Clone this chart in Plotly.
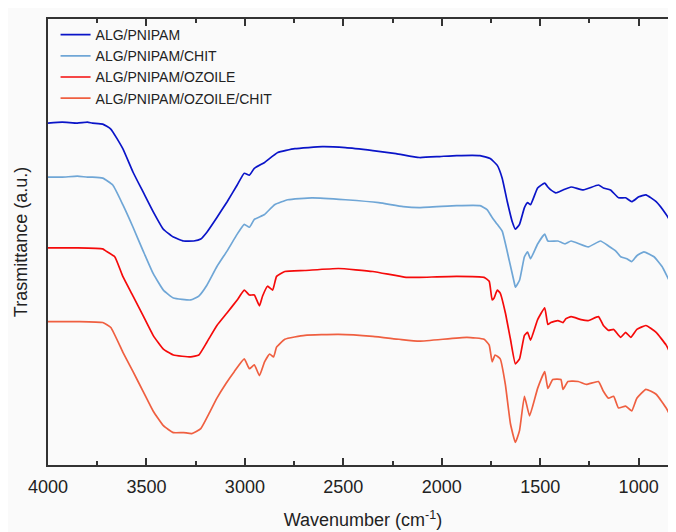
import plotly.graph_objects as go

# Wavenumber (cm^-1) and transmittance (a.u., offset)
wn_alg = [4000, 3928, 3851, 3800, 3774, 3722, 3681, 3620, 3568, 3517, 3466, 3414, 3363, 3311, 3260,
          3224, 3193, 3142, 3090, 3039, 3003, 2977, 2952, 2900, 2833, 2746, 2607, 2489, 2350, 2232,
          2114, 2011, 1924, 1806, 1754, 1718, 1693, 1667, 1641, 1626, 1605, 1580, 1564, 1549, 1513,
          1477, 1461, 1446, 1420, 1384, 1343, 1281, 1204, 1179, 1143, 1102, 1066, 1035, 999, 963,
          911, 860, 829, 804]
t_alg = [3.48, 3.49, 3.48, 3.49, 3.48, 3.47, 3.42, 3.22, 2.98, 2.78, 2.58, 2.40, 2.32, 2.28, 2.28,
         2.30, 2.37, 2.52, 2.68, 2.85, 2.97, 2.95, 3.02, 3.08, 3.18, 3.22, 3.24, 3.23, 3.20, 3.17,
         3.13, 3.14, 3.15, 3.15, 3.12, 3.05, 2.92, 2.68, 2.47, 2.40, 2.45, 2.62, 2.67, 2.65, 2.82,
         2.87, 2.83, 2.80, 2.77, 2.80, 2.83, 2.80, 2.85, 2.82, 2.80, 2.72, 2.72, 2.68, 2.73, 2.75,
         2.68, 2.55, 2.45, 2.37]

wn_chit = [4000, 3928, 3851, 3800, 3774, 3722, 3671, 3620, 3568, 3517, 3466, 3414, 3363, 3275, 3234,
           3193, 3142, 3090, 3039, 3003, 2977, 2952, 2900, 2849, 2782, 2659, 2489, 2320, 2196, 2114,
           1924, 1806, 1770, 1744, 1718, 1693, 1657, 1631, 1626, 1605, 1580, 1564, 1549, 1513, 1477,
           1461, 1410, 1374, 1343, 1256, 1194, 1153, 1117, 1091, 1060, 1035, 1009, 973, 922, 881,
           845, 804]
t_chit = [2.93, 2.93, 2.94, 2.93, 2.93, 2.92, 2.85, 2.65, 2.42, 2.18, 1.95, 1.78, 1.70, 1.68, 1.72,
          1.83, 2.02, 2.18, 2.35, 2.45, 2.42, 2.50, 2.55, 2.65, 2.70, 2.72, 2.70, 2.67, 2.63, 2.62,
          2.64, 2.64, 2.60, 2.52, 2.45, 2.38, 2.08, 1.85, 1.81, 1.88, 2.12, 2.17, 2.10, 2.25, 2.35,
          2.28, 2.28, 2.25, 2.28, 2.22, 2.28, 2.23, 2.18, 2.12, 2.10, 2.07, 2.13, 2.17, 2.12, 2.02,
          1.88, 1.75]

wn_oz = [4000, 3851, 3722, 3707, 3661, 3620, 3568, 3517, 3466, 3414, 3363, 3275, 3234, 3193, 3142,
         3090, 3039, 3003, 2977, 2952, 2926, 2910, 2885, 2859, 2839, 2797, 2695, 2525, 2350, 2181,
         2114, 1924, 1785, 1759, 1744, 1734, 1718, 1703, 1677, 1651, 1626, 1605, 1580, 1564, 1549,
         1513, 1477, 1461, 1446, 1410, 1384, 1369, 1343, 1292, 1256, 1204, 1179, 1153, 1127, 1091,
         1066, 1040, 1009, 963, 911, 860, 829, 804]
t_oz = [2.21, 2.21, 2.20, 2.18, 2.12, 1.92, 1.72, 1.52, 1.32, 1.18, 1.12, 1.10, 1.12, 1.25, 1.42,
        1.55, 1.68, 1.78, 1.73, 1.73, 1.62, 1.72, 1.82, 1.78, 1.92, 1.97, 1.98, 2.00, 1.97, 1.91,
        1.91, 1.92, 1.91, 1.87, 1.68, 1.70, 1.78, 1.75, 1.55, 1.28, 1.03, 1.08, 1.32, 1.35, 1.27,
        1.48, 1.60, 1.43, 1.45, 1.47, 1.45, 1.49, 1.51, 1.48, 1.47, 1.51, 1.42, 1.37, 1.38, 1.30,
        1.35, 1.30, 1.38, 1.42, 1.35, 1.22, 1.10, 1.02]

wn_ozchit = [4000, 3851, 3722, 3681, 3620, 3568, 3517, 3466, 3414, 3363, 3311, 3270, 3224, 3183, 3142,
             3096, 3054, 3003, 2977, 2952, 2926, 2900, 2874, 2854, 2839, 2797, 2695, 2525, 2350, 2217,
             2114, 1872, 1785, 1759, 1744, 1729, 1703, 1677, 1651, 1626, 1605, 1580, 1554, 1513, 1477,
             1461, 1436, 1395, 1384, 1359, 1307, 1266, 1204, 1179, 1153, 1127, 1102, 1066, 1035, 1009,
             963, 911, 860, 829, 804]
t_ozchit = [1.46, 1.46, 1.45, 1.40, 1.15, 0.95, 0.75, 0.55, 0.40, 0.33, 0.33, 0.32, 0.37, 0.52, 0.68,
            0.83, 0.95, 1.08, 0.98, 1.02, 0.91, 1.05, 1.13, 1.10, 1.20, 1.28, 1.32, 1.33, 1.31, 1.28,
            1.26, 1.30, 1.28, 1.22, 1.05, 1.12, 1.08, 0.82, 0.42, 0.23, 0.35, 0.70, 0.50, 0.78, 0.95,
            0.78, 0.87, 0.87, 0.77, 0.85, 0.85, 0.82, 0.85, 0.75, 0.68, 0.70, 0.58, 0.60, 0.55, 0.68,
            0.77, 0.72, 0.58, 0.45, 0.30]

names = ["ALG/PNIPAM", "ALG/PNIPAM/CHIT", "ALG/PNIPAM/OZOILE", "ALG/PNIPAM/OZOILE/CHIT"]
colors = ["#0a14c8", "#6fa6d6", "#f50a0a", "#ef5f40"]
series = [(wn_alg, t_alg), (wn_chit, t_chit), (wn_oz, t_oz), (wn_ozchit, t_ozchit)]

FONT = "Liberation Sans, Arial, sans-serif"
fig = go.Figure()
for (x, y), n, c in zip(series, names, colors):
    fig.add_trace(go.Scatter(x=x, y=y, mode="lines", name=n,
                             line=dict(color=c, width=1.7, shape="spline", smoothing=0.4)))

fig.update_layout(
    width=676, height=532,
    margin=dict(l=40, r=6, t=11, b=75),
    paper_bgcolor="#fafafa", plot_bgcolor="#fafafa",
    font=dict(family=FONT, size=18, color="#222"),
    showlegend=True,
    legend=dict(x=0.012, y=1.0, xanchor="left", yanchor="top",
                bgcolor="rgba(0,0,0,0)", font=dict(size=14, color="#222"),
                tracegroupgap=0, itemwidth=30),
    xaxis=dict(range=[4000, 800], tickvals=[4000, 3500, 3000, 2500, 2000, 1500, 1000],
               ticks="inside", ticklen=7, tickwidth=1.5, tickcolor="#333", ticklabelstandoff=4,
               minor=dict(ticks="inside", dtick=250, tick0=4000, ticklen=4, tickwidth=1.5, tickcolor="#333"),
               showline=True, linecolor="#333", linewidth=1.8, mirror="ticks",
               showgrid=False, zeroline=False, automargin=False,
               title=dict(text="Wavenumber (cm<sup>-1</sup>)", standoff=18, font=dict(size=18))),
    yaxis=dict(range=[0, 4.54], showticklabels=False, ticks="",
               showline=True, linecolor="#333", linewidth=1.8, mirror=True,
               showgrid=False, zeroline=False, automargin=False,
               title=dict(text="Trasmittance (a.u.)", standoff=14, font=dict(size=18))),
)
fig.write_html("out.html")
